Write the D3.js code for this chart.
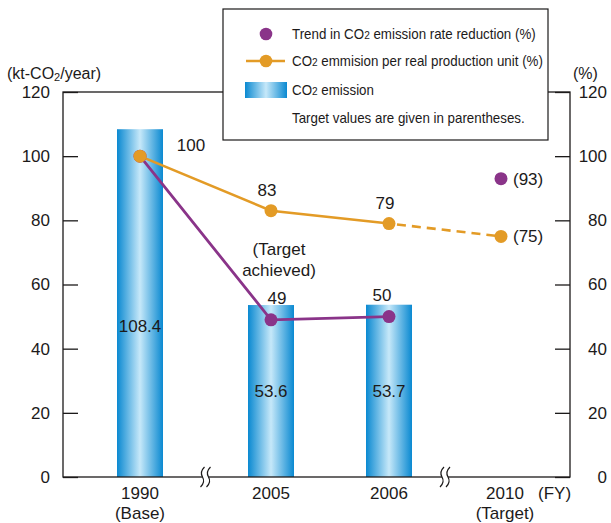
<!DOCTYPE html>
<html>
<head>
<meta charset="utf-8">
<script src="https://cdn.jsdelivr.net/npm/d3@7"></script>
<style>
  body { margin: 0; background: #fff; }
  svg { display: block; font-family: "Liberation Sans", Arial, Helvetica, sans-serif; }
</style>
</head>
<body>
<svg id="chart" width="611" height="523"></svg>
<script>
// Fiscal years on the x axis (the axis is broken between 1990/2005 and 2006/2010)
const years = [1990, 2005, 2006, 2010];
const yearLabels = ["1990", "2005", "2006", "2010"];
const yearNotes = ["(Base)", "", "", "(Target)"];
const axisBreaks = [[1990, 2005], [2006, 2010]];

// CO2 emission, kt-CO2/year (no bar for the 2010 target)
const emission = [108.4, 53.6, 53.7, null];
// CO2 emission per real production unit (%), 2010 is a target
const perUnit = [100, 83, 79, 75];
// Trend in CO2 emission rate reduction (%), 2010 is a target
const reduction = [100, 49, 50, 93];

const yTicks = [0, 20, 40, 60, 80, 100, 120];

const ink = "#1c1a1a";
const purple = "#8a3489";
const orange = "#e39b26";

const svg = d3.select("#chart");
const m = { left: 63, right: 570, top: 92, bottom: 477 };

// piecewise scale so the axis can be compressed across the breaks
const x = d3.scaleLinear().domain(years).range([140, 271, 389, 501]);
const y = d3.scaleLinear().domain([0, 120]).range([m.bottom, m.top]);

// bar gradient: deep blue edges, pale centre
const defs = svg.append("defs");
const grad = defs.append("linearGradient").attr("id", "barGrad")
  .attr("x1", "0%").attr("x2", "100%").attr("y1", "0%").attr("y2", "0%");
grad.append("stop").attr("offset", "0%").attr("stop-color", "#0a89d1");
grad.append("stop").attr("offset", "50%").attr("stop-color", "#c6e8f9");
grad.append("stop").attr("offset", "100%").attr("stop-color", "#0a89d1");

// writes a string into a text node, lowering the "2" of CO2
function withSubscript(sel, str, size, drop) {
  const parts = str.split("CO2");
  parts.forEach((p, i) => {
    if (i > 0) {
      sel.append("tspan").text("CO");
      sel.append("tspan").attr("font-size", size).attr("dy", drop).text("2");
      sel.append("tspan").attr("dy", -drop).text(p);
    } else {
      sel.append("tspan").text(p);
    }
  });
}

// bars
const barW = 46;
const barData = years.map((yr, i) => ({ yr, v: emission[i] })).filter(d => d.v != null);
svg.append("g").selectAll("rect").data(barData).join("rect")
  .attr("x", d => x(d.yr) - barW / 2)
  .attr("width", barW)
  .attr("y", d => y(d.v))
  .attr("height", d => y(0) - y(d.v))
  .attr("fill", "url(#barGrad)");

svg.append("g").selectAll("text").data(barData).join("text")
  .attr("x", d => x(d.yr))
  .attr("y", d => y(Math.min(d.v / 2, 47)))
  .attr("dy", "0.35em")
  .attr("text-anchor", "middle")
  .attr("font-size", 17)
  .attr("fill", ink)
  .text(d => d.v.toFixed(1));

// frame
const frame = svg.append("g").attr("stroke", ink).attr("stroke-width", 1.3).attr("fill", "none");
frame.append("rect")
  .attr("x", m.left).attr("y", m.top)
  .attr("width", m.right - m.left).attr("height", m.bottom - m.top);

// y axes, ticks pointing inward
const leftAxis = d3.axisLeft(y).tickValues(yTicks).tickSize(-15).tickPadding(13);
const gL = svg.append("g").attr("transform", `translate(${m.left},0)`).call(leftAxis);
const rightAxis = d3.axisRight(y).tickValues(yTicks).tickSize(-15).tickPadding(37);
const gR = svg.append("g").attr("transform", `translate(${m.right},0)`).call(rightAxis);
[gL, gR].forEach(g => {
  g.select(".domain").remove();
  g.selectAll(".tick line").attr("stroke", ink).attr("stroke-width", 1.3);
  g.selectAll(".tick text").attr("font-size", 17).attr("fill", ink)
    .attr("font-family", "Liberation Sans, Arial, sans-serif");
});
gR.selectAll(".tick text").attr("text-anchor", "end");

// axis titles
const tL = svg.append("text").attr("x", 7).attr("y", 79).attr("font-size", 16).attr("fill", ink);
withSubscript(tL, "(kt-CO2/year)", 11, 2);
svg.append("text").attr("x", 573).attr("y", 79).attr("font-size", 16).attr("fill", ink).text("(%)");

// x labels
svg.append("g").selectAll("text").data(years).join("text")
  .attr("x", d => x(d) + (d === 2010 ? 4 : 0))
  .attr("y", 499)
  .attr("text-anchor", "middle")
  .attr("font-size", 17).attr("fill", ink)
  .text((d, i) => yearLabels[i]);
svg.append("g").selectAll("text").data(years).join("text")
  .attr("x", d => x(d) + (d === 2010 ? 4 : 0))
  .attr("y", 519)
  .attr("text-anchor", "middle")
  .attr("font-size", 17).attr("fill", ink)
  .text((d, i) => yearNotes[i]);
svg.append("text").attr("x", 538).attr("y", 499).attr("font-size", 17).attr("fill", ink).text("(FY)");

// axis break marks
const brk = svg.append("g");
axisBreaks.forEach(([a, b]) => {
  const cx = x((a + b) / 2);
  brk.append("rect").attr("x", cx - 3).attr("y", m.bottom - 2).attr("width", 6).attr("height", 4).attr("fill", "#fff");
  [-3, 3].forEach(o => {
    const bx = cx + o;
    brk.append("path")
      .attr("d", `M${bx + 2},${m.bottom - 10} Q${bx - 3},${m.bottom - 5} ${bx},${m.bottom} T${bx - 2},${m.bottom + 10}`)
      .attr("fill", "none").attr("stroke", ink).attr("stroke-width", 1.2);
  });
});

// orange series: solid for actuals, dashed toward the target
const pu = years.map((yr, i) => ({ yr, v: perUnit[i] }));
const line = d3.line().x(d => x(d.yr)).y(d => y(d.v));
svg.append("path").datum(pu.slice(0, 3)).attr("d", line)
  .attr("fill", "none").attr("stroke", orange).attr("stroke-width", 2.6);
svg.append("path").datum(pu.slice(2)).attr("d", line)
  .attr("fill", "none").attr("stroke", orange).attr("stroke-width", 2.6)
  .attr("stroke-dasharray", "9,6").attr("stroke-dashoffset", -8);

// purple series: actuals joined, target standalone
const rd = years.map((yr, i) => ({ yr, v: reduction[i] }));
svg.append("path").datum(rd.slice(0, 3)).attr("d", line)
  .attr("fill", "none").attr("stroke", purple).attr("stroke-width", 2.8);

svg.append("g").selectAll("circle").data(rd).join("circle")
  .attr("cx", d => x(d.yr)).attr("cy", d => y(d.v)).attr("r", 6.5).attr("fill", purple);
svg.append("g").selectAll("circle").data(pu).join("circle")
  .attr("cx", d => x(d.yr)).attr("cy", d => y(d.v)).attr("r", 6.5).attr("fill", orange);

// value labels
const lab = svg.append("g").attr("font-size", 17).attr("fill", ink);
lab.append("text").attr("x", x(1990) + 51).attr("y", y(perUnit[0]) - 5)
  .attr("text-anchor", "middle").text(perUnit[0]);
[1, 2].forEach(i => {
  lab.append("text").attr("x", x(years[i]) - 4).attr("y", y(perUnit[i]) - 15)
    .attr("text-anchor", "middle").text(perUnit[i]);
  lab.append("text").attr("x", x(years[i]) + (i === 1 ? 6 : -7)).attr("y", y(reduction[i]) - 16)
    .attr("text-anchor", "middle").text(reduction[i]);
});
lab.append("text").attr("x", x(2005) + 8).attr("y", 255).attr("text-anchor", "middle").text("(Target");
lab.append("text").attr("x", x(2005) + 8).attr("y", 276).attr("text-anchor", "middle").text("achieved)");
lab.append("text").attr("x", x(2010) + 12).attr("y", y(reduction[3])).attr("dy", "0.35em").text(`(${reduction[3]})`);
lab.append("text").attr("x", x(2010) + 12).attr("y", y(perUnit[3])).attr("dy", "0.35em").text(`(${perUnit[3]})`);

// legend
const lg = svg.append("g");
lg.append("rect").attr("x", 223).attr("y", 9).attr("width", 325).attr("height", 131)
  .attr("fill", "#fff").attr("stroke", ink).attr("stroke-width", 1.2);
const sx = 266, tx = 292;
lg.append("circle").attr("cx", sx).attr("cy", 34).attr("r", 6.3).attr("fill", purple);
lg.append("line").attr("x1", 246).attr("x2", 285).attr("y1", 61).attr("y2", 61)
  .attr("stroke", orange).attr("stroke-width", 2.6);
lg.append("circle").attr("cx", sx).attr("cy", 61).attr("r", 6.3).attr("fill", orange);
lg.append("rect").attr("x", 245).attr("y", 82).attr("width", 42).attr("height", 16).attr("fill", "url(#barGrad)");
// legend entries are set in a horizontally condensed face
const legendItems = [
  { t: "Trend in CO2 emission rate reduction (%)", y: 34 },
  { t: "CO2 emmision per real production unit (%)", y: 61 },
  { t: "CO2 emission", y: 90 },
  { t: "Target values are given in parentheses.", y: 118 }
];
const condense = 0.92;
legendItems.forEach(it => {
  const t = lg.append("text")
    .attr("transform", `translate(${tx},${it.y + 5}) scale(${condense},1)`)
    .attr("font-size", 14.5).attr("fill", ink);
  withSubscript(t, it.t, 11, 0);
});
</script>
</body>
</html>
